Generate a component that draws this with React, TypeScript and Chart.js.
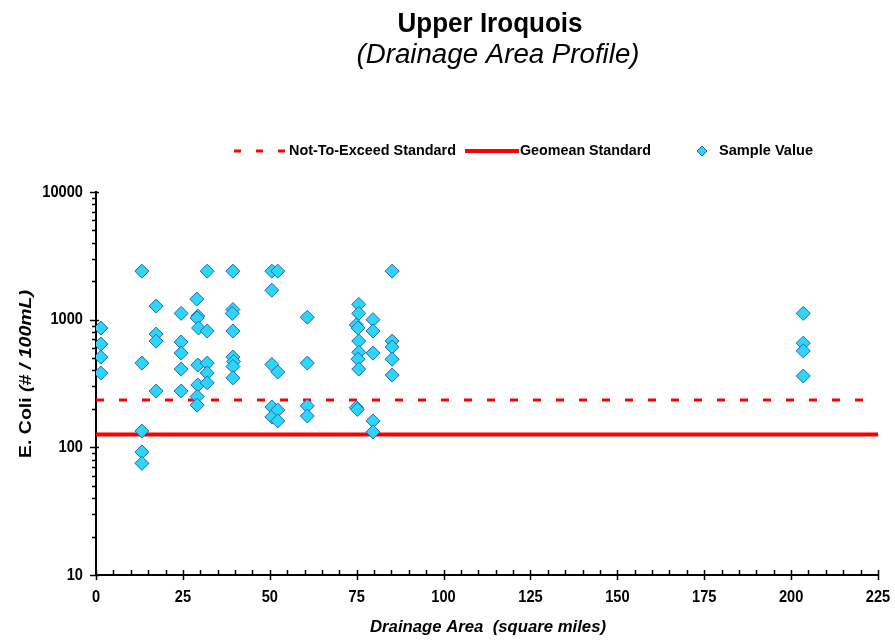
import React, { useEffect, useRef } from "react";
import { Chart, registerables } from "chart.js";

Chart.register(...registerables);

// ---------- text ----------
const titleText = "Upper Iroquois";
const subtitleText = "(Drainage Area Profile)";
const xAxisLabel = "Drainage Area  (square miles)";
const yAxisLabelMain = "E. Coli ";
const yAxisLabelUnit = "(# / 100mL)";
const legendNames = ["Not-To-Exceed Standard", "Geomean Standard", "Sample Value"];

// ---------- axes ----------
const xTicks = [0, 25, 50, 75, 100, 125, 150, 175, 200, 225];
const yTicks = [10, 100, 1000, 10000];

// ---------- standards ----------
const notToExceedValue = 235;
const geomeanValue = 126;
const standardSpan = [0, 225];

// ---------- samples (drainage area, E. coli) ----------
const sampleArea = [
  1.4, 1.4, 1.4, 1.4,
  13.2, 13.2, 13.2, 13.2, 13.2,
  17.3, 17.3, 17.3, 17.3,
  24.5, 24.5, 24.5, 24.5, 24.5,
  29.0, 29.3, 29.1, 29.5, 29.3, 29.3, 29.1, 29.1,
  32.0, 32.0, 32.0, 32.0, 32.0,
  39.4, 39.4, 39.2, 39.4, 39.4, 39.6, 39.4, 39.4,
  50.6, 50.6, 50.6, 50.6, 50.6,
  52.3, 52.3, 52.3, 52.3,
  60.8, 60.8, 60.8, 60.8,
  75.6, 75.6, 74.9, 75.4, 75.6, 75.6, 75.4, 75.6, 74.9, 75.2,
  79.7, 79.7, 79.7, 79.7, 79.7,
  85.2, 85.2, 85.2, 85.2, 85.2,
  203.5, 203.5, 203.5, 203.5,
];
const sampleEColi = [
  859, 644, 509, 382,
  2400, 457, 134, 92, 75,
  1277, 771, 679, 276,
  1120, 668, 547, 410, 276,
  1449, 1067, 1030, 860, 441, 308, 250, 214,
  2400, 815, 457, 382, 320,
  2400, 1200, 1120, 815, 509, 470, 430, 350,
  2400, 1700, 445, 207, 173,
  2400, 389, 196, 161,
  1045, 457, 211, 176,
  1317, 1120, 910, 860, 680, 555, 490, 410, 205, 198,
  1000, 815, 547, 161, 132,
  2400, 680, 610, 490, 368,
  1120, 655, 570, 362,
];

const RED = "#FF0000";
const CYAN = "#2CD6F8";
const DIAMOND_EDGE = "#2A62B8";
const SANS = "'Liberation Sans', Arial, sans-serif";
const TICK_FONT = `bold 17px ${SANS}`;
const TICK_SCALE = 0.86;

function fitText(ctx: CanvasRenderingContext2D, text: string, font: string, x: number, cy: number, width: number, align: "left" | "center") {
  ctx.save();
  ctx.font = font;
  const w = ctx.measureText(text).width;
  const s = width / w;
  ctx.translate(align === "center" ? x - width / 2 : x, cy);
  ctx.scale(s, 1);
  ctx.textAlign = "left";
  ctx.textBaseline = "middle";
  ctx.fillStyle = "#000";
  ctx.fillText(text, 0, 0);
  ctx.restore();
}

function scaledText(ctx: CanvasRenderingContext2D, text: string, font: string, sx: number, x: number, cy: number, align: "right" | "center") {
  ctx.save();
  ctx.translate(x, cy);
  ctx.scale(sx, 1);
  ctx.font = font;
  ctx.textAlign = align;
  ctx.textBaseline = "middle";
  ctx.fillStyle = "#000";
  ctx.fillText(text, 0, 0);
  ctx.restore();
}

const decorPlugin = {
  id: "decor",
  afterDraw(chart: any) {
    const { ctx, chartArea } = chart;
    const xs = chart.scales.x;
    const ys = chart.scales.y;
    ctx.save();

    // x tick marks: major cross the axis, minor inside
    const xStep = (xTicks[1] - xTicks[0]) / 5;
    ctx.strokeStyle = "#000";
    ctx.lineWidth = 1.5;
    for (let v = xTicks[0]; v <= xTicks[xTicks.length - 1] + 1e-9; v += xStep) {
      const px = Math.round(xs.getPixelForValue(v)) + 0.5;
      const major = xTicks.includes(Math.round(v));
      ctx.beginPath();
      ctx.moveTo(px, chartArea.bottom - 5);
      ctx.lineTo(px, chartArea.bottom + (major ? 5 : 0));
      ctx.stroke();
    }
    // y tick marks
    for (let i = 0; i < yTicks.length; i++) {
      const d = yTicks[i];
      const mults = i === yTicks.length - 1 ? [1] : [1, 2, 3, 4, 5, 6, 7, 8, 9];
      for (const m of mults) {
        const py = Math.round(ys.getPixelForValue(d * m)) + 0.5;
        const major = m === 1;
        ctx.beginPath();
        ctx.moveTo(chartArea.left - (major ? 6 : 4), py);
        ctx.lineTo(chartArea.left + (major ? 3 : 0), py);
        ctx.stroke();
      }
    }

    // tick labels (condensed bold), positioned by the chart's scales
    for (const t of xs.ticks) {
      scaledText(ctx, String(t.value), TICK_FONT, TICK_SCALE, xs.getPixelForValue(t.value), 597, "center");
    }
    for (const t of ys.ticks) {
      scaledText(ctx, String(t.value), TICK_FONT, TICK_SCALE, chartArea.left - 13, ys.getPixelForValue(t.value), "right");
    }

    // titles
    fitText(ctx, titleText, `bold 27px ${SANS}`, 490, 25, 185, "center");
    fitText(ctx, subtitleText, `italic 27px ${SANS}`, 498, 55, 283, "center");

    // legend
    const ly = 151;
    ctx.strokeStyle = RED;
    ctx.lineWidth = 3;
    ctx.setLineDash([7, 15]);
    ctx.beginPath();
    ctx.moveTo(234, ly);
    ctx.lineTo(287, ly);
    ctx.stroke();
    ctx.setLineDash([]);
    ctx.lineWidth = 4;
    ctx.beginPath();
    ctx.moveTo(465, ly);
    ctx.lineTo(519, ly);
    ctx.stroke();
    ctx.fillStyle = CYAN;
    ctx.strokeStyle = DIAMOND_EDGE;
    ctx.lineWidth = 1;
    ctx.beginPath();
    ctx.moveTo(702, ly - 5);
    ctx.lineTo(707, ly);
    ctx.lineTo(702, ly + 5);
    ctx.lineTo(697, ly);
    ctx.closePath();
    ctx.fill();
    ctx.stroke();
    fitText(ctx, legendNames[0], `bold 15px ${SANS}`, 289, ly, 167, "left");
    fitText(ctx, legendNames[1], `bold 15px ${SANS}`, 520, ly, 131, "left");
    fitText(ctx, legendNames[2], `bold 15px ${SANS}`, 719, ly, 94, "left");

    // x axis title
    fitText(ctx, xAxisLabel, `bold italic 17px ${SANS}`, 488, 627, 236, "center");

    // y axis title (mixed style, rotated)
    ctx.save();
    const f1 = `bold 19px ${SANS}`;
    const f2 = `bold italic 19px ${SANS}`;
    ctx.font = f1;
    const w1 = ctx.measureText(yAxisLabelMain).width;
    ctx.font = f2;
    const w2 = ctx.measureText(yAxisLabelUnit).width;
    const total = w1 + w2;
    const s = 168 / total;
    ctx.translate(27, 374);
    ctx.rotate(-Math.PI / 2);
    ctx.scale(s, 0.85);
    ctx.textBaseline = "middle";
    ctx.textAlign = "left";
    ctx.fillStyle = "#000";
    ctx.font = f1;
    ctx.fillText(yAxisLabelMain, -total / 2, 0);
    ctx.font = f2;
    ctx.fillText(yAxisLabelUnit, -total / 2 + w1, 0);
    ctx.restore();

    ctx.restore();
  },
};

export default function App() {
  const ref = useRef<HTMLCanvasElement | null>(null);
  useEffect(() => {
    if (!ref.current) return;
    const samples = sampleArea.map((a, i) => ({ x: a, y: sampleEColi[i] }));
    const chart = new Chart(ref.current, {
      type: "scatter",
      data: {
        datasets: [
          {
            label: legendNames[2],
            data: samples,
            pointStyle: "rectRot",
            pointRadius: 7,
            backgroundColor: CYAN,
            borderColor: DIAMOND_EDGE,
            borderWidth: 1,
            order: 0,
          } as any,
          {
            type: "line",
            label: legendNames[0],
            data: standardSpan.map((a) => ({ x: a, y: notToExceedValue })),
            borderColor: RED,
            borderWidth: 3,
            borderDash: [8, 15],
            pointRadius: 0,
            fill: false,
            order: 1,
          },
          {
            type: "line",
            label: legendNames[1],
            data: standardSpan.map((a) => ({ x: a, y: geomeanValue })),
            borderColor: RED,
            borderWidth: 4,
            pointRadius: 0,
            fill: false,
            order: 2,
          },
        ],
      },
      options: {
        animation: false,
        responsive: false,
        layout: { padding: { top: 192, right: 17, left: 0, bottom: 0 } },
        plugins: { legend: { display: false }, tooltip: { enabled: false }, title: { display: false } },
        scales: {
          x: {
            type: "linear",
            min: xTicks[0],
            max: xTicks[xTicks.length - 1],
            afterBuildTicks: (s: any) => {
              s.ticks = xTicks.map((v) => ({ value: v }));
            },
            afterFit: (s: any) => {
              s.height = 66;
            },
            ticks: { display: false },
            grid: { drawOnChartArea: false, drawTicks: false },
            border: { color: "#000", width: 2 },
          },
          y: {
            type: "logarithmic",
            min: yTicks[0],
            max: yTicks[yTicks.length - 1],
            afterBuildTicks: (s: any) => {
              s.ticks = yTicks.map((v) => ({ value: v }));
            },
            afterFit: (s: any) => {
              s.width = 96;
            },
            ticks: { display: false },
            grid: { drawOnChartArea: false, drawTicks: false },
            border: { color: "#000", width: 2 },
          },
        },
      },
      plugins: [decorPlugin],
    });
    return () => chart.destroy();
  }, []);
  return (
    <div style={{ position: "fixed", left: 0, top: 0, width: 895, height: 641, background: "#fff" }}>
      <canvas ref={ref} width={895} height={641} style={{ width: 895, height: 641 }} />
    </div>
  );
}
